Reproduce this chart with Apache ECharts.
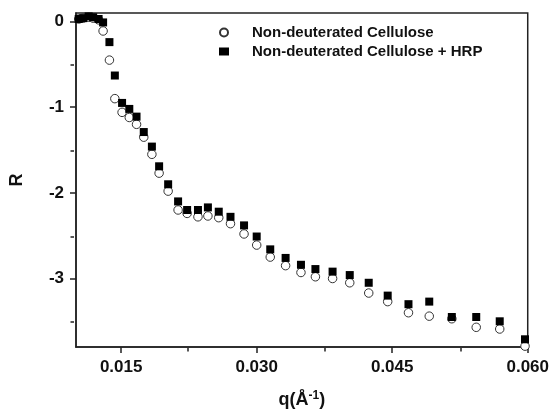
<!DOCTYPE html>
<html><head><meta charset="utf-8">
<script src="https://cdn.jsdelivr.net/npm/echarts@6/dist/echarts.min.js"></script>
<style>html,body{margin:0;padding:0;background:#fff}#c{width:552px;height:414px}</style>
</head><body><div id="c"></div>
<script>
const q = [0.0103,0.0108,0.0114,0.0119,0.0125,0.0130,0.0137,0.0143,0.0151,0.0159,0.0167,0.0175,0.0184,0.0192,0.0202,0.0213,0.0223,0.0235,0.0246,0.0258,0.0271,0.0286,0.0300,0.0315,0.0332,0.0349,0.0365,0.0384,0.0403,0.0424,0.0445,0.0468,0.0491,0.0516,0.0543,0.0569,0.0597];
const rCellulose = [0.03,0.04,0.05,0.04,0.02,-0.11,-0.45,-0.90,-1.06,-1.12,-1.20,-1.35,-1.55,-1.77,-1.98,-2.20,-2.24,-2.28,-2.27,-2.29,-2.36,-2.48,-2.61,-2.75,-2.85,-2.93,-2.98,-3.00,-3.05,-3.17,-3.27,-3.40,-3.44,-3.47,-3.57,-3.59,-3.79];
const rCelluloseHRP = [0.03,0.04,0.06,0.05,0.03,-0.01,-0.24,-0.63,-0.95,-1.02,-1.11,-1.29,-1.46,-1.69,-1.90,-2.10,-2.20,-2.20,-2.17,-2.22,-2.28,-2.38,-2.51,-2.66,-2.76,-2.84,-2.89,-2.92,-2.96,-3.05,-3.20,-3.30,-3.27,-3.45,-3.45,-3.50,-3.71];
const seriesNames = ['Non-deuterated Cellulose','Non-deuterated Cellulose + HRP'];
const xMajorTicks = [0.015,0.030,0.045,0.060];
const xMinorTicks = [0.0225,0.0375,0.0525];
const yMajorTicks = [0,-1,-2,-3];
const yMinorTicks = [-0.5,-1.5,-2.5,-3.5];

const FONT = 'Liberation Sans, Arial, sans-serif';
const lineStyle = {color:'#222', width:1.5};
const chart = echarts.init(document.getElementById('c'), null, {renderer:'canvas'});
const xr = {min:0.01, max:0.06};
const yr = {min:-3.8, max:0.1};
const gridRect = {left:74, right:23, top:13, bottom:66, containLabel:false};
chart.setOption({
  animation:false,
  backgroundColor:'#fff',
  grid:[
    {...gridRect, show:true, borderColor:'#222', borderWidth:1.5, backgroundColor:'transparent'},
    {...gridRect, show:false}
  ],
  legend:{
    orient:'vertical', left:214, top:20, itemWidth:10, itemHeight:8, itemGap:4,
    data:seriesNames,
    textStyle:{fontFamily:FONT, fontWeight:'bold', fontSize:15, color:'#111', padding:[0,0,0,18]}
  },
  xAxis:[
    {type:'value', gridIndex:0, position:'bottom', ...xr,
     axisLine:{show:true, onZero:false, lineStyle},
     axisTick:{show:true, inside:false, length:6, customValues:xMajorTicks, lineStyle},
     axisLabel:{show:true, margin:12, customValues:xMajorTicks, formatter:v=>v.toFixed(3),
       fontFamily:FONT, fontWeight:'bold', fontSize:17, color:'#111'},
     splitLine:{show:false},
     name:'q(Å{sup|-1})', nameLocation:'middle', nameGap:43,
     nameTextStyle:{fontFamily:FONT, fontWeight:'bold', fontSize:18, color:'#111',
       rich:{sup:{fontFamily:FONT, fontWeight:'bold', fontSize:12, color:'#111', verticalAlign:'top', padding:[0,0,8,0]}}}
    },
    {type:'value', gridIndex:1, position:'bottom', ...xr,
     axisLine:{show:false, onZero:false}, axisTick:{show:true, inside:false, length:3.5, customValues:xMinorTicks, lineStyle},
     axisLabel:{show:false}, splitLine:{show:false}}
  ],
  yAxis:[
    {type:'value', gridIndex:0, position:'left', ...yr,
     axisLine:{show:true, onZero:false, lineStyle},
     axisTick:{show:true, inside:false, length:6, customValues:yMajorTicks, lineStyle},
     axisLabel:{show:true, margin:12, customValues:yMajorTicks, formatter:v=>String(v),
       fontFamily:FONT, fontWeight:'bold', fontSize:17, color:'#111'},
     splitLine:{show:false},
     name:'R', nameLocation:'middle', nameGap:50, nameRotate:90,
     nameTextStyle:{fontFamily:FONT, fontWeight:'bold', fontSize:18, color:'#111'}
    },
    {type:'value', gridIndex:1, position:'left', ...yr,
     axisLine:{show:false, onZero:false}, axisTick:{show:true, inside:false, length:3.5, customValues:yMinorTicks, lineStyle},
     axisLabel:{show:false}, splitLine:{show:false}}
  ],
  series:[
    {name:seriesNames[0], type:'scatter', xAxisIndex:0, yAxisIndex:0, symbol:'circle', symbolSize:8.5,
     itemStyle:{color:'#fff', borderColor:'#333', borderWidth:1, opacity:1},
     data:q.map((x,i)=>[x, rCellulose[i]]), z:2},
    {name:seriesNames[1], type:'scatter', xAxisIndex:0, yAxisIndex:0, symbol:'rect', symbolSize:8,
     itemStyle:{color:'#000', opacity:1},
     data:q.map((x,i)=>[x, rCelluloseHRP[i]]), z:3}
  ]
});
</script></body></html>
